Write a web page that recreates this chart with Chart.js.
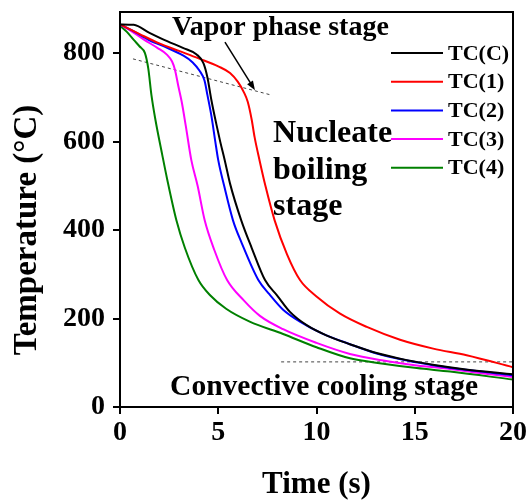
<!DOCTYPE html>
<html>
<head>
<meta charset="utf-8">
<script src="https://cdn.jsdelivr.net/npm/chart.js@4.4.0/dist/chart.umd.min.js"></script>
<style>
  html, body { margin: 0; padding: 0; background: #fff; }
  #wrap { width: 532px; height: 504px; }
</style>
</head>
<body>
<div id="wrap"><canvas id="coolingChart" width="532" height="504"></canvas></div>
<script>
// Cooling curves: [time (s), temperature (°C)]
const tcC = [[0,865],[0.7,864],[1.5,846],[2.4,827],[3.2,812],[3.9,797],[4.25,777],[4.45,745],[4.65,694],[4.9,640],[5.1,600],[5.33,558],[5.6,505],[6.17,422],[6.7,360],[7.38,287],[8.0,252],[8.65,215],[9.5,185],[10.5,162],[11.7,142],[13.06,122],[14.6,106],[16,95],[17.6,85],[20,74]];
const tc1 = [[0,865],[1,843],[2,822],[3,805],[4,788],[5,770],[5.6,755],[6.0,735],[6.3,712],[6.5,690],[6.7,650],[6.85,610],[7.1,558],[7.4,500],[7.87,422],[8.5,345],[9.16,287],[10,250],[11.2,211],[12.56,181],[14.25,152],[15.94,132],[17.64,117],[20,90]];
const tc2 = [[0,865],[0.7,849],[1.5,829],[2.4,812],[3.2,795],[3.7,779],[4.05,760],[4.3,738],[4.45,705],[4.66,656],[4.85,600],[5.0,558],[5.3,500],[5.75,422],[6.2,370],[7.04,287],[7.6,255],[8.3,220],[9.2,192],[10.3,166],[11.7,142],[13.06,121],[14.6,105],[16,94],[17.6,84],[20,72]];
const tc3 = [[0,865],[0.5,852],[1.2,831],[1.9,812],[2.4,796],[2.65,781],[2.8,762],[2.97,725],[3.14,690],[3.35,635],[3.63,558],[3.95,500],[4.31,422],[4.8,355],[5.45,287],[6.3,241],[7.12,206],[8.3,176],[10,145],[11.7,120],[13.4,105],[15.1,94],[16.8,86],[18.5,76],[20,68]];
const tc4 = [[0,862],[0.35,848],[0.7,830],[1.0,815],[1.27,800],[1.44,765],[1.6,705],[1.8,650],[2.15,570],[2.4,515],[2.87,422],[3.3,360],[3.99,287],[4.6,252],[5.4,222],[6.6,193],[8.3,165],[10,135],[11.7,110],[13.4,98],[15.1,88],[16.8,80],[20,62]];

const seriesLabels = ['TC(C)', 'TC(1)', 'TC(2)', 'TC(3)', 'TC(4)'];
const seriesColors = ['#000000', '#ff0000', '#0000ff', '#ff00ff', '#008000'];
const xTicks = [0, 5, 10, 15, 20];
const yTicks = [0, 200, 400, 600, 800];

// stage guide lines
const vaporLine = [[0.66, 787], [7.72, 705]];
const convectiveLine = [[8.2, 102], [20, 102]];

const serif = 'Liberation Serif, Times New Roman, serif';
const toPts = arr => arr.map(p => ({ x: p[0], y: p[1] }));

const curves = [tcC, tc1, tc2, tc3, tc4].map((d, i) => ({
  label: seriesLabels[i],
  data: toPts(d),
  borderColor: seriesColors[i],
  borderWidth: 2,
  pointRadius: 0,
  cubicInterpolationMode: 'monotone',
  fill: false
}));

const guides = [vaporLine, convectiveLine].map(d => ({
  label: '',
  data: toPts(d),
  borderColor: '#444',
  borderWidth: 1,
  borderDash: [3, 3],
  pointRadius: 0,
  tension: 0,
  fill: false
}));

// frame, legend, stage labels and arrow
const decorations = {
  id: 'decorations',
  afterDraw(chart) {
    const { ctx, chartArea: a, scales: { x, y } } = chart;
    ctx.save();
    ctx.strokeStyle = '#000';
    ctx.lineWidth = 2;
    ctx.strokeRect(a.left, a.top, a.right - a.left, a.bottom - a.top);

    // legend
    ctx.font = 'bold 22px ' + serif;
    ctx.textBaseline = 'middle';
    ctx.textAlign = 'left';
    curves.forEach((c, i) => {
      const ly = 53 + i * 28.7;
      ctx.strokeStyle = c.borderColor;
      ctx.lineWidth = 2;
      ctx.beginPath();
      ctx.moveTo(391, ly);
      ctx.lineTo(443, ly);
      ctx.stroke();
      ctx.fillStyle = '#000';
      ctx.fillText(c.label, 448, ly + 1);
    });

    // stage labels
    ctx.fillStyle = '#000';
    ctx.textBaseline = 'alphabetic';
    ctx.font = 'bold 28px ' + serif;
    ctx.fillText('Vapor phase stage', x.getPixelForValue(2.65), y.getPixelForValue(841));
    ctx.font = 'bold 32px ' + serif;
    ctx.fillText('Nucleate', x.getPixelForValue(7.79), y.getPixelForValue(599));
    ctx.fillText('boiling', x.getPixelForValue(7.79), y.getPixelForValue(515));
    ctx.fillText('stage', x.getPixelForValue(7.79), y.getPixelForValue(433));
    ctx.font = 'bold 29.5px ' + serif;
    ctx.fillText('Convective cooling stage', x.getPixelForValue(2.55), y.getPixelForValue(26));

    // arrow pointing at the vapor stage break
    const x0 = x.getPixelForValue(5.34), y0 = y.getPixelForValue(825);
    const x1 = x.getPixelForValue(6.87), y1 = y.getPixelForValue(716);
    const ang = Math.atan2(y1 - y0, x1 - x0);
    ctx.strokeStyle = '#000';
    ctx.lineWidth = 1.5;
    ctx.beginPath();
    ctx.moveTo(x0, y0);
    ctx.lineTo(x1 - 6 * Math.cos(ang), y1 - 6 * Math.sin(ang));
    ctx.stroke();
    ctx.beginPath();
    ctx.moveTo(x1, y1);
    ctx.lineTo(x1 - 10 * Math.cos(ang - 0.35), y1 - 10 * Math.sin(ang - 0.35));
    ctx.lineTo(x1 - 10 * Math.cos(ang + 0.35), y1 - 10 * Math.sin(ang + 0.35));
    ctx.closePath();
    ctx.fillStyle = '#000';
    ctx.fill();

    // y axis title
    ctx.translate(27, 230);
    ctx.rotate(-Math.PI / 2);
    ctx.textAlign = 'center';
    ctx.textBaseline = 'middle';
    ctx.font = 'bold 33px ' + serif;
    ctx.fillText('Temperature (\u00B0C)', 0, 0);
    ctx.restore();
  }
};

const tickFont = { family: serif, size: 28, weight: 'bold' };

new Chart(document.getElementById('coolingChart'), {
  type: 'line',
  data: { datasets: curves.concat(guides) },
  plugins: [decorations],
  options: {
    responsive: false,
    animation: false,
    layout: { padding: { left: 0, right: 19, top: 12, bottom: 0 } },
    plugins: { legend: { display: false }, tooltip: { enabled: false } },
    scales: {
      x: {
        type: 'linear',
        min: 0,
        max: 20,
        afterBuildTicks: s => { s.ticks = xTicks.map(v => ({ value: v })); },
        afterFit: s => { s.height = 97; s.paddingLeft = 0; s.paddingRight = 0; },
        ticks: { font: tickFont, color: '#000', padding: 2, maxRotation: 0 },
        grid: { drawOnChartArea: false, color: '#000', lineWidth: 2, tickLength: 7 },
        border: { color: '#000', width: 2 },
        title: { display: true, text: 'Time (s)', color: '#000', font: { family: serif, size: 31, weight: 'bold' }, padding: { top: 0, bottom: 0 } }
      },
      y: {
        type: 'linear',
        min: 0,
        max: 893,
        afterBuildTicks: s => { s.ticks = yTicks.map(v => ({ value: v })); },
        afterFit: s => { s.width = 120; s.paddingTop = 0; s.paddingBottom = 0; },
        ticks: { font: tickFont, color: '#000', padding: 8 },
        grid: { drawOnChartArea: false, color: '#000', lineWidth: 2, tickLength: 7 },
        border: { color: '#000', width: 2 }
      }
    }
  }
});
</script>
</body>
</html>
